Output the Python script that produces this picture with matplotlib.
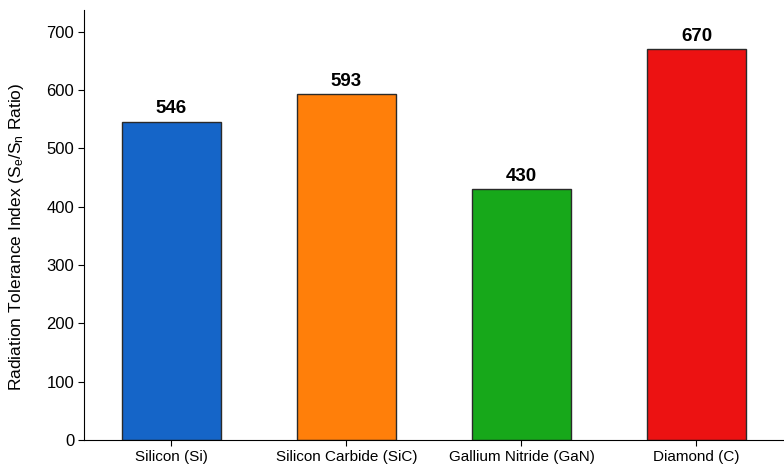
import matplotlib.pyplot as plt
import matplotlib

matplotlib.rcParams["font.family"] = ["Liberation Sans", "DejaVu Sans"]
matplotlib.rcParams["mathtext.fontset"] = "custom"
matplotlib.rcParams["mathtext.rm"] = "Liberation Sans"
matplotlib.rcParams["mathtext.it"] = "Liberation Sans"

materials = ["Silicon (Si)", "Silicon Carbide (SiC)", "Gallium Nitride (GaN)", "Diamond (C)"]
tolerance = [546, 593, 430, 670]
colors = ["#1565C8", "#FF7F0A", "#17A81A", "#EC1212"]

fig = plt.figure(figsize=(7.84, 4.65), dpi=100)
ax = fig.add_axes([0.107, 0.054, 0.893, 0.924])

x = range(len(materials))
bars = ax.bar(x, tolerance, width=0.565, color=colors, edgecolor="#2a2a2a", linewidth=1.0)

for bar, val in zip(bars, tolerance):
    ax.annotate(
        f"{val}",
        xy=(bar.get_x() + bar.get_width() / 2, val),
        xytext=(0, 3),
        textcoords="offset points",
        ha="center",
        va="bottom",
        fontsize=13.5,
        fontweight="bold",
        color="black",
    )

ax.set_xlim(-0.5, 3.5)
ax.set_ylim(0, 737)
ax.set_xticks(list(x))
ax.set_xticklabels(materials, fontsize=11)
ax.set_yticks(range(0, 701, 100))
ax.tick_params(axis="y", labelsize=12, length=4, width=0.8, pad=3)
ax.tick_params(axis="x", length=4, width=0.8, pad=3)
ax.set_ylabel("Radiation Tolerance Index (S$_e$/S$_n$ Ratio)", fontsize=12.5)
ax.yaxis.set_label_coords(-0.083, 0.472)

for side in ("top", "right"):
    ax.spines[side].set_visible(False)
for side in ("left", "bottom"):
    ax.spines[side].set_linewidth(0.8)

fig.savefig("out.png", dpi=100)
